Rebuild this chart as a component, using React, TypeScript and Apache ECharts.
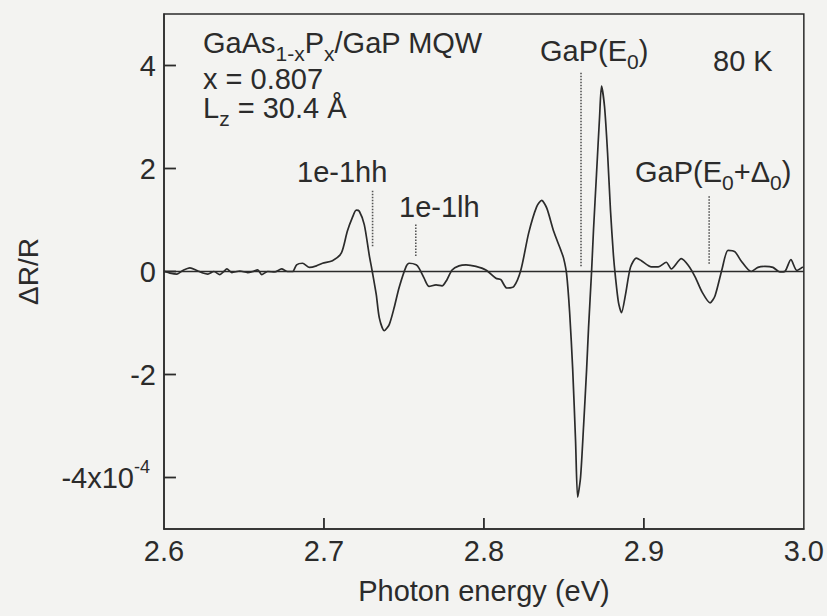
import React, { useEffect, useRef } from "react";
import * as echarts from "echarts";

// ΔR/R (×10^-4) versus photon energy (eV)
const spectrum: [number, number][] = [
  [2.6006, 0], [2.6037, -0.03], [2.6081, -0.05], [2.6118, 0.02], [2.6162, 0.07],
  [2.6206, 0.02], [2.6243, -0.03], [2.6274, -0.05], [2.6312, 0], [2.6349, -0.06],
  [2.6374, 0], [2.6393, 0.05], [2.6424, -0.02], [2.6474, 0.01], [2.6523, -0.02],
  [2.6555, 0], [2.6586, 0.03], [2.6611, -0.06], [2.6648, 0], [2.6692, -0.01],
  [2.6735, 0.05], [2.6773, 0], [2.6804, 0], [2.6829, 0.13], [2.6866, 0.16],
  [2.691, 0.08], [2.6953, 0.11], [2.6991, 0.16], [2.7053, 0.21], [2.7109, 0.36],
  [2.7146, 0.78], [2.7178, 1.05], [2.7202, 1.19], [2.7221, 1.17], [2.7252, 0.91],
  [2.7283, 0.32], [2.7302, 0], [2.7327, -0.45], [2.7346, -0.9], [2.7377, -1.15],
  [2.7408, -1.03], [2.7439, -0.7], [2.747, -0.31], [2.7514, 0.1], [2.7533, 0.16],
  [2.7576, 0.13], [2.7595, 0.06], [2.7626, -0.13], [2.7657, -0.29], [2.7701, -0.26],
  [2.7738, -0.28], [2.7769, -0.16], [2.7801, 0.03], [2.7844, 0.11], [2.7888, 0.13],
  [2.795, 0.1], [2.8012, 0.03], [2.8075, -0.13], [2.8106, -0.16], [2.8143, -0.32],
  [2.8187, -0.29], [2.8231, 0.03], [2.828, 0.75], [2.833, 1.26], [2.8361, 1.38],
  [2.8393, 1.23], [2.8436, 0.78], [2.848, 0.42], [2.8498, 0.26], [2.8517, -0.05],
  [2.8536, -0.8], [2.8555, -1.9], [2.8573, -3.3], [2.8586, -4.38], [2.8604, -4.0],
  [2.8623, -3.0], [2.8642, -1.9], [2.8654, -1.1], [2.8673, 0], [2.8685, 0.8],
  [2.8704, 1.9], [2.8723, 3.0], [2.8735, 3.6], [2.8754, 3.2], [2.8773, 2.3],
  [2.8791, 1.2], [2.881, 0.3], [2.8822, -0.1], [2.8841, -0.6], [2.886, -0.8],
  [2.8885, -0.45], [2.8916, 0.08], [2.8953, 0.26], [2.8984, 0.21], [2.9047, 0.09],
  [2.909, 0.09], [2.914, 0.18], [2.9171, 0.05], [2.9234, 0.25], [2.9277, 0.12],
  [2.9321, -0.11], [2.9364, -0.4], [2.9414, -0.61], [2.9445, -0.47], [2.9489, 0.05],
  [2.9526, 0.41], [2.957, 0.38], [2.9607, 0.21], [2.967, 0], [2.9713, 0.08],
  [2.9757, 0.1], [2.9807, 0.08], [2.985, -0.01], [2.9881, 0], [2.9919, 0.23],
  [2.9956, 0.02], [2.9994, 0.09],
];

// dotted transition markers: energy, lower and upper ΔR/R ends
const markerNames = ["1e-1hh", "1e-1lh", "GaP(E0)", "GaP(E0+Δ0)"];
const markerEnergy = [2.7304, 2.7574, 2.8607, 2.9408];
const markerLow = [0.49, 0.3, 0.1, 0.15];
const markerHigh = [1.59, 0.92, 3.86, 1.49];

const zeroLine: [number, number][] = [[2.6, 0], [3.0, 0]];

const xTicks = [2.6, 2.7, 2.8, 2.9, 3.0];
const yTicks = [-4, -2, 0, 2, 4];
const X_MIN = 2.6;
const X_MAX = 3.0;
const Y_MIN = -5;
const Y_MAX = 5;

const FONT = "'Liberation Sans', Arial, Helvetica, sans-serif";
const INK = "#2b2b2b";

const W = 827;
const H = 616;
const GRID = { left: 164, right: 21, top: 14, bottom: 87 };

export default function App() {
  const ref = useRef<HTMLDivElement>(null);

  useEffect(() => {
    if (!ref.current) return;
    const chart = echarts.init(ref.current, undefined, { renderer: "svg" });

    const main = { fontSize: 29, lineHeight: 28, fontFamily: FONT, color: INK };
    const sub = {
      fontSize: 21,
      height: 8,
      lineHeight: 8,
      verticalAlign: "bottom",
      fontFamily: FONT,
      color: INK,
    };
    const rich = { m: main, s: sub };

    const txt = (x: number, y: number, text: string) => ({
      type: "text",
      x,
      y,
      silent: true,
      style: {
        text,
        rich,
        fontSize: 29,
        fontFamily: FONT,
        fill: INK,
        textAlign: "left",
        textVerticalAlign: "middle",
      },
    });

    const markerSeries = markerNames.map((n, i) => ({
      type: "line",
      name: n,
      data: [
        [markerEnergy[i], markerLow[i]],
        [markerEnergy[i], markerHigh[i]],
      ],
      showSymbol: false,
      silent: true,
      lineStyle: { color: "#555", width: 1.6, type: [1.5, 1.5] },
      z: 3,
    }));

    // inward tick marks (12 px / 11 px long), in data units of the scales
    const gridW = W - GRID.left - GRID.right;
    const gridH = H - GRID.top - GRID.bottom;
    const dxTick = (12 * (X_MAX - X_MIN)) / gridW;
    const dyTick = (11 * (Y_MAX - Y_MIN)) / gridH;
    const tickLine = (name: string, data: number[][]) => ({
      type: "line",
      name,
      data,
      showSymbol: false,
      silent: true,
      clip: false,
      lineStyle: { color: INK, width: 1.8 },
      z: 6,
    });
    const tickSeries = [
      ...yTicks.map((v) => tickLine("ytick" + v, [[X_MIN, v], [X_MIN + dxTick, v]])),
      ...xTicks
        .slice(1, -1)
        .map((v) => tickLine("xtick" + v, [[v, Y_MIN], [v, Y_MIN + dyTick]])),
    ];

    chart.setOption({
      animation: false,
      backgroundColor: "#f3f3f1",
      grid: {
        ...GRID,
        show: true,
        borderColor: INK,
        borderWidth: 1.5,
        backgroundColor: "transparent",
      },
      xAxis: {
        type: "value",
        min: X_MIN,
        max: X_MAX,
        interval: 0.1,
        name: "Photon energy (eV)",
        nameLocation: "middle",
        nameGap: 47,
        nameTextStyle: { fontSize: 29, fontFamily: FONT, color: INK },
        axisLine: { show: true, onZero: false, lineStyle: { color: INK, width: 1.5 } },
        axisTick: { show: false },
        axisLabel: {
          fontSize: 29,
          fontFamily: FONT,
          color: INK,
          margin: 7,
          customValues: xTicks,
          formatter: (v: number) => v.toFixed(1),
        },
        splitLine: { show: false },
      },
      yAxis: {
        type: "value",
        min: Y_MIN,
        max: Y_MAX,
        interval: 1,
        name: "ΔR/R",
        nameLocation: "middle",
        nameGap: 122,
        nameTextStyle: { fontSize: 28, fontFamily: FONT, color: INK },
        axisLine: { show: true, onZero: false, lineStyle: { color: INK, width: 1.5 } },
        axisTick: { show: false },
        axisLabel: {
          fontSize: 29,
          fontFamily: FONT,
          color: INK,
          margin: 8,
          customValues: yTicks,
          formatter: (v: number) =>
            v === -4 ? "{m|-4x10}{p|-4}" : "{m|" + String(v) + "}",
          rich: {
            m: { fontSize: 29, lineHeight: 40, fontFamily: FONT, color: INK },
            p: {
              fontSize: 18,
              lineHeight: 18,
              verticalAlign: "top",
              fontFamily: FONT,
              color: INK,
              padding: [0, 6, 0, 0],
            },
          },
        },
        splitLine: { show: false },
      },
      series: [
        {
          type: "line",
          name: "zero",
          data: zeroLine,
          showSymbol: false,
          silent: true,
          lineStyle: { color: INK, width: 1.5 },
          z: 2,
        },
        ...markerSeries,
        ...tickSeries,
        {
          type: "line",
          name: "ΔR/R",
          data: spectrum,
          showSymbol: false,
          smooth: 0.25,
          lineStyle: { color: INK, width: 1.7 },
          z: 4,
        },
      ],
      graphic: [
        txt(203, 43, "{m|GaAs}{s|1-x}{m|P}{s|x}{m|/GaP MQW}"),
        txt(203, 79, "{m|x = 0.807}"),
        txt(203, 108, "{m|L}{s|z}{m| = 30.4 Å}"),
        txt(297, 172, "{m|1e-1hh}"),
        txt(399, 207, "{m|1e-1lh}"),
        txt(540, 51, "{m|GaP(E}{s|0}{m|)}"),
        txt(713, 61, "{m|80 K}"),
        txt(635, 172, "{m|GaP(E}{s|0}{m|+Δ}{s|0}{m|)}"),
      ],
    });

    return () => chart.dispose();
  }, []);

  return (
    <div
      ref={ref}
      style={{ position: "fixed", left: 0, top: 0, width: W, height: H }}
    />
  );
}
